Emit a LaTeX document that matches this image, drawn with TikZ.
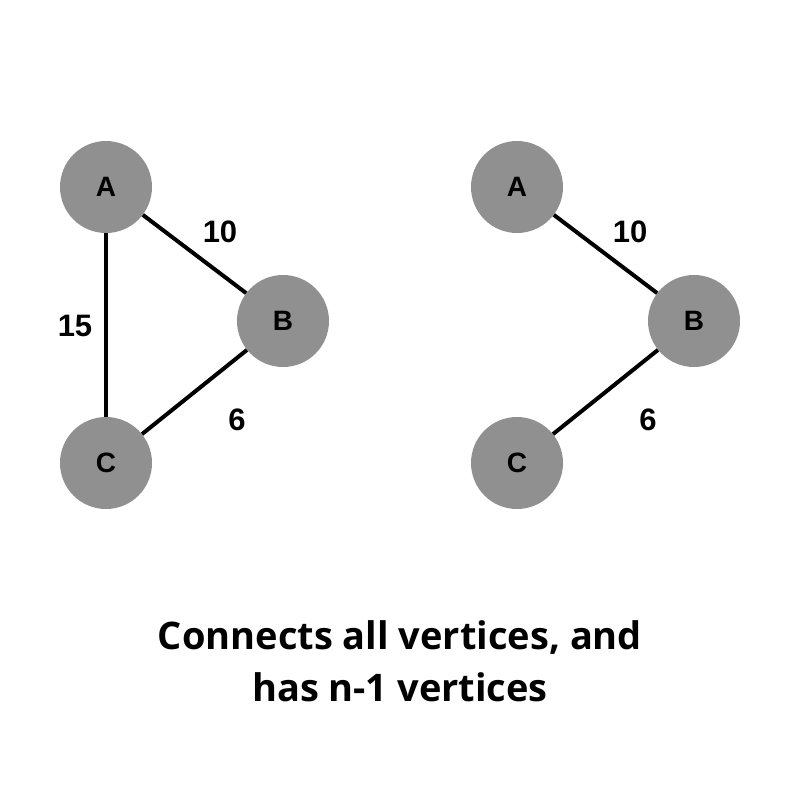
\documentclass[tikz,border=0pt]{standalone}
\usepackage{fontspec}
\setmainfont{Liberation Sans}
\newfontfamily\titlefont{Open Sans}
\begin{document}
\begin{tikzpicture}[x=1pt,y=-1pt,
  vertex/.style={circle,fill=vgray,minimum size=92pt,inner sep=0pt,font=\fontsize{28}{28}\selectfont\bfseries},
  edge/.style={line width=4pt,black},
  weight/.style={font=\fontsize{31}{31}\selectfont\bfseries,inner sep=0pt},
  caption/.style={font=\titlefont\fontsize{38}{38}\selectfont\bfseries,anchor=base,inner sep=0pt}]
\definecolor{vgray}{HTML}{909090}
\useasboundingbox[fill=white] (0,0) rectangle (800,800);
% left graph
\node[vertex] (A1) at (106,187) {A};
\node[vertex] (B1) at (283,321) {B};
\node[vertex] (C1) at (106,463) {C};
\draw[edge] (A1) -- (B1);
\draw[edge] (A1) -- (C1);
\draw[edge] (B1) -- (C1);
\node[weight] (w10a) at (220,232) {10};
\node[weight] (w15) at (75,326) {15};
\node[weight] (w6a) at (237,420) {6};
% right graph
\node[vertex] (A2) at (517,187) {A};
\node[vertex] (B2) at (694,321) {B};
\node[vertex] (C2) at (517,463) {C};
\draw[edge] (A2) -- (B2);
\draw[edge] (B2) -- (C2);
\node[weight] (w10b) at (630,232) {10};
\node[weight] (w6b) at (648,420) {6};
% caption
\node[caption] (cap1) at (400,649) {Connects all vertices, and};
\node[caption] (cap2) at (400,701) {has n-1 vertices};
\end{tikzpicture}
\end{document}
